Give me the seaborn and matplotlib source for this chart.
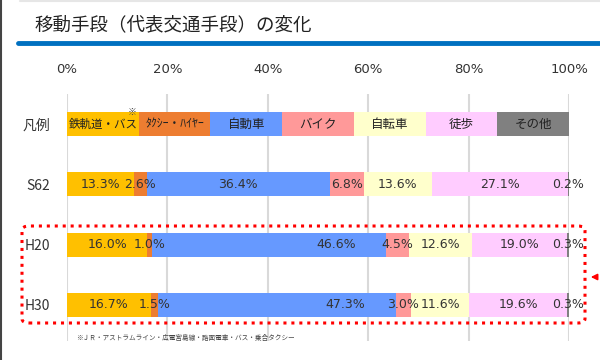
import matplotlib
matplotlib.use("Agg")
import matplotlib.pyplot as plt
import seaborn as sns
import pandas as pd
import numpy as np
from matplotlib.patches import FancyBboxPatch
from matplotlib.lines import Line2D

# ---- data ----
modes = ["鉄軌道・バス", "ﾀｸｼｰ・ﾊｲﾔｰ", "自動車", "バイク", "自転車", "徒歩", "その他"]
colors = ["#FFC000", "#ED7D31", "#6699FF", "#FF9999", "#FFFFCC", "#FFCCFF", "#808080"]
rows = ["凡例", "S62", "H20", "H30"]
s62 = [13.3, 2.6, 36.4, 6.8, 13.6, 27.1, 0.2]
h20 = [16.0, 1.0, 46.6, 4.5, 12.6, 19.0, 0.3]
h30 = [16.7, 1.5, 47.3, 3.0, 11.6, 19.6, 0.3]
legend_vals = [100 / 7] * 7
xticks = [0, 20, 40, 60, 80, 100]
title = "移動手段（代表交通手段）の変化"
footnote = "※ＪＲ・アストラムライン・広電宮島線・路面電車・バス・乗合タクシー"

sns.set_theme(style="white")
JP = ["Noto Sans CJK JP", "DejaVu Sans"]
plt.rcParams["font.family"] = JP

series = {"凡例": legend_vals, "S62": s62, "H20": h20, "H30": h30}
recs = []
for r in rows:
    vals = series[r]
    cum = np.cumsum(vals)
    for m, v, c in zip(modes, vals, cum):
        recs.append({"row": r, "mode": m, "val": v, "cum": c})
df = pd.DataFrame(recs)

fig = plt.figure(figsize=(6, 3.6), dpi=100)
ax = fig.add_axes([67 / 600, 1 - 341 / 360, (569 - 67) / 600, (341 - 94) / 360])

# gridlines behind
for t in xticks:
    ax.axvline(t, color="#D9D9D9", lw=1.5, zorder=0)

# stacked bars: draw cumulative from last to first
for m, c in reversed(list(zip(modes, colors))):
    sub = df[df["mode"] == m]
    sns.barplot(data=sub, x="cum", y="row", order=rows, orient="h", color=c,
                width=0.4, ax=ax, saturation=1, edgecolor="none", zorder=2)

ax.set_xlim(0, 100)
ax.set_ylim(3.6, -0.5)
ax.xaxis.tick_top()
ax.set_xticks(xticks)
ax.set_xticklabels([f"{t}%" for t in xticks], fontsize=9.5, color="#333333",
                   family="DejaVu Sans")
ax.tick_params(axis="x", length=0, pad=13)
ax.tick_params(axis="y", length=0, pad=12, labelsize=10, labelcolor="#333333")
ax.set_xlabel("")
ax.set_ylabel("")
for s in ax.spines.values():
    s.set_visible(False)

# legend row text
cum = np.cumsum(legend_vals)
for i, (m, v, c) in enumerate(zip(modes, legend_vals, cum)):
    fs = 8.3 if i == 0 else (8.5 if i == 1 else 9)
    ax.text(c - v / 2, 0, m, ha="center", va="center", fontsize=fs,
            color="#222222", zorder=5, family=JP)
ax.text(cum[0] - 1.3, -0.2, "※", ha="center", va="center", fontsize=6.5,
        color="#444444", zorder=5, family=JP)

# data labels
for yi, r in enumerate(rows[1:], start=1):
    vals = series[r]
    cs = np.cumsum(vals)
    for k, (v, c) in enumerate(zip(vals, cs)):
        x = c - v / 2
        if k == 2 and r != "S62":
            x = c - 10
        ax.text(x, yi, f"{v:.1f}%", ha="center", va="center", fontsize=9,
                color="#333333", zorder=5, family="DejaVu Sans")

# title and decorations
fig.text(35 / 600, 1 - 25 / 360, title, fontsize=13.3, va="center", ha="left",
         color="#222222", family=JP)
fig.add_artist(Line2D([18 / 600, 1], [1 - 43 / 360] * 2, color="#0070C0", lw=3.5))
fig.add_artist(Line2D([20 / 600, 1], [1 - 1 / 360] * 2, color="#E6E6E6", lw=1.5))
fig.add_artist(Line2D([1 / 600, 1 / 600], [0, 1], color="#444444", lw=1.5))

# dotted red highlight
box = FancyBboxPatch((22 / 600, 1 - 323 / 360), (585 - 22) / 600, (323 - 226) / 360,
                     boxstyle="round,pad=0,rounding_size=0.012", transform=fig.transFigure,
                     fill=False, edgecolor="#FF0000", lw=2.2, linestyle=(0, (1, 1.6)), zorder=10)
fig.add_artist(box)
fig.add_artist(plt.Annotation("", xy=(588 / 600, 1 - 277 / 360), xytext=(1.0, 1 - 277 / 360),
                              xycoords=fig.transFigure, textcoords=fig.transFigure,
                              arrowprops=dict(arrowstyle="-|>", color="#FF0000", lw=1.2,
                                              mutation_scale=9)))

fig.text(76 / 600, 1 - 338 / 360, footnote, fontsize=4.8, va="center", ha="left",
         color="#444444", family=JP)

fig.savefig("out.png", dpi=100)
